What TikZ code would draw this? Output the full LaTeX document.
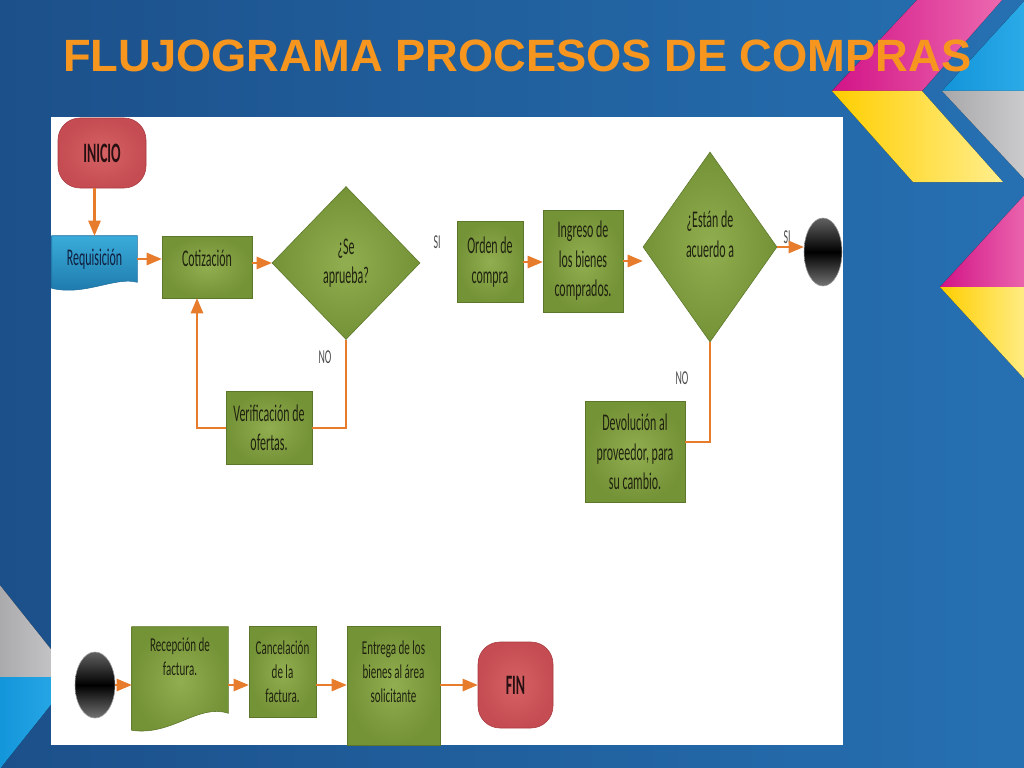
\documentclass[tikz,border=0pt]{standalone}
\usepackage{fontspec}
\usepackage{xcolor}
\usepackage{tikz}
\usetikzlibrary{shapes.geometric, arrows, positioning, backgrounds}
\setmainfont{Carlito}
\newfontfamily\boxfont[FakeStretch=0.5]{Carlito}
\newfontfamily\lowfont[FakeStretch=0.56]{Carlito}
\newfontfamily\titlefont{Liberation Sans}
\newlength\pu
\setlength\pu{0.025cm}
\definecolor{slideblue}{RGB}{28,80,138}
\definecolor{slidelight}{RGB}{38,112,178}
\definecolor{titleorange}{RGB}{247,150,30}
\definecolor{boxgreen}{RGB}{116,146,54}
\definecolor{boxlight}{RGB}{145,175,80}
\definecolor{boxedge}{RGB}{92,118,42}
\definecolor{boxtext}{RGB}{32,34,16}
\definecolor{termred}{RGB}{196,76,82}
\definecolor{termlight}{RGB}{214,98,100}
\definecolor{termedge}{RGB}{170,60,66}
\definecolor{termtext}{RGB}{40,16,18}
\definecolor{docblue}{RGB}{58,172,218}
\definecolor{docdark}{RGB}{28,118,168}
\definecolor{docedge}{RGB}{30,110,160}
\definecolor{doctext}{RGB}{16,30,62}
\definecolor{flowarrow}{RGB}{230,124,44}
\definecolor{decomag}{RGB}{210,20,135}
\definecolor{decopink}{RGB}{236,105,175}
\definecolor{decogold}{RGB}{255,206,0}
\definecolor{decocream}{RGB}{255,238,140}
\definecolor{decocyan}{RGB}{18,148,218}
\definecolor{decosky}{RGB}{45,172,232}
\definecolor{decogray}{RGB}{168,168,170}
\definecolor{decosilver}{RGB}{205,205,207}

\begin{document}
\begin{tikzpicture}[x=0.025cm, y=-0.025cm,
  procbox/.style={rectangle, draw=boxedge, inner color=boxlight, outer color=boxgreen, inner sep=0pt, align=center, text=boxtext, font=\boxfont\fontsize{17}{21}\selectfont},
  lowbox/.style={procbox, font=\lowfont\fontsize{14}{17}\selectfont},
  decision/.style={diamond, draw=boxedge, inner color=boxlight, outer color=boxgreen, inner sep=0pt, align=center, text=boxtext, font=\boxfont\fontsize{17}{21}\selectfont},
  docnode/.style={rectangle, inner sep=0pt, align=center},
  terminal/.style={rectangle, rounded corners=22\pu, draw=termedge, inner color=termlight, outer color=termred, text=termtext, font=\boxfont\bfseries\fontsize{20}{24}\selectfont},
  junction/.style={ellipse, draw=black!40, top color=black!62, bottom color=black!55, middle color=black, inner sep=0pt},
  flow/.style={->, >=triangle 45, line width=1.5pt, draw=flowarrow},
  loopline/.style={line width=1.5pt, draw=flowarrow},
  answer/.style={text=black!70, font=\boxfont\fontsize{14}{16}\selectfont}]
\useasboundingbox (0,0) rectangle (1024,768);
\begin{scope}[on background layer]
\fill[left color=slideblue, right color=slidelight] (0,0) rectangle (1024,768);
\fill[left color=decomag, right color=decopink] (832,91) -- (917,0) -- (1002,0) -- (922,91) -- cycle;
\fill[left color=decogold, right color=decocream] (832,91) -- (922,91) -- (1003,182) -- (913,182) -- cycle;
\fill[left color=decocyan, right color=decosky] (942,91) -- (1027,-2) -- (1030,-2) -- (1030,91) -- cycle;
\fill[left color=decogray, right color=decosilver] (942,91) -- (1030,91) -- (1030,185) -- cycle;
\fill[left color=decomag, right color=decopink] (940,287) -- (1030,189) -- (1030,287) -- cycle;
\fill[left color=decogold, right color=decocream] (940,287) -- (1030,287) -- (1030,385) -- cycle;
\fill[left color=decogray, right color=decosilver] (-5,579) -- (73,677) -- (-5,677) -- cycle;
\fill[left color=decocyan, right color=decosky] (-5,677) -- (73,677) -- (-5,775) -- cycle;
\fill[white] (51,117) rectangle (843,745);
\end{scope}

\node[anchor=base west, inner sep=0pt, text=titleorange, font=\titlefont\bfseries\fontsize{32.2}{38}\selectfont] (title) at (63,72) {FLUJOGRAMA PROCESOS DE COMPRAS};

\node[terminal, minimum width=88\pu, minimum height=70\pu] (inicio) at (102,153) {INICIO};
\node[docnode, minimum width=85\pu, minimum height=46\pu, text=doctext, font=\boxfont\fontsize{17}{21}\selectfont] (req) at (94.5,259) {Requisición};
\node[procbox, minimum width=90\pu, minimum height=62\pu, text depth=18\pu] (cot) at (207,267) {Cotización};
\node[decision, minimum width=148\pu, minimum height=153\pu] (aprueba) at (346,263) {¿Se\\aprueba?};
\node[procbox, minimum width=86\pu, minimum height=73\pu] (verif) at (269,428) {Verificación de\\ofertas.};
\node[procbox, minimum width=66\pu, minimum height=81\pu] (orden) at (490,262) {Orden de\\compra};
\node[procbox, minimum width=80\pu, minimum height=102\pu] (ingreso) at (583,261) {Ingreso de\\los bienes\\comprados.};
\node[decision, minimum width=134\pu, minimum height=190\pu, text depth=26\pu] (acuerdo) at (710,247) {¿Están de\\acuerdo a};
\node[junction, minimum width=38\pu, minimum height=68\pu] (conA) at (823,252) {};
\node[procbox, minimum width=100\pu, minimum height=101\pu] (devol) at (635,452) {Devolución al\\proveedor, para\\su cambio.};

\node[junction, minimum width=40\pu, minimum height=66\pu] (conB) at (95,685) {};
\node[docnode, minimum width=96\pu, minimum height=86\pu, text depth=26\pu, text=boxtext, font=\lowfont\fontsize{14}{17}\selectfont] (recep) at (180,670) {Recepción de\\factura.};
\node[lowbox, minimum width=67\pu, minimum height=91\pu] (canc) at (282.5,671.5) {Cancelación\\de la\\factura.};
\node[lowbox, minimum width=93\pu, minimum height=119\pu, text depth=27\pu] (entrega) at (393.5,685.5) {Entrega de los\\bienes al área\\solicitante};
\node[terminal, minimum width=75\pu, minimum height=86\pu] (fin) at (515.5,685) {FIN};

\node[answer] (siA) at (437,242) {SI};
\node[answer] (noA) at (325,357) {NO};
\node[answer] (siB) at (787,237) {SI};
\node[answer] (noB) at (682,378) {NO};

\begin{scope}[on background layer]
\draw[draw=docedge, top color=docblue, bottom color=docdark] (req.north west) -- (req.north east) -- (req.south east) .. controls +(-22,-6) and +(33,8) .. ([yshift=-6\pu]req.south west) -- cycle;
\draw[draw=boxedge, inner color=boxlight, outer color=boxgreen] (recep.north west) -- (recep.north east) -- (recep.south east) .. controls +(-30,-10) and +(40,6) .. ([yshift=-17\pu]recep.south west) -- cycle;
\end{scope}

\draw[flow] (inicio.south -| req.north) -- (req.north);
\draw[flow] (req.east) -- (req.east -| cot.west);
\draw[flow] (aprueba.west -| cot.east) -- (aprueba.west);
\draw[loopline] (aprueba.south) |- (verif.east);
\draw[flow] (verif.west) -| ([xshift=-10\pu]cot.south);
\draw[flow] (orden.east) -- (orden.east -| ingreso.west);
\draw[flow] (ingreso.east) -- (ingreso.east -| acuerdo.west);
\draw[flow] (acuerdo.east) -- (acuerdo.east -| conA.west);
\draw[loopline] (acuerdo.south) |- ([yshift=10\pu]devol.east);
\draw[flow] (conB.east) -- (conB.east -| recep.west);
\draw[flow] (recep.east |- conB) -- (canc.west |- conB);
\draw[flow] (canc.east |- conB) -- (entrega.west |- conB);
\draw[flow] (entrega.east |- conB) -- (fin.west |- conB);
\end{tikzpicture}
\end{document}
